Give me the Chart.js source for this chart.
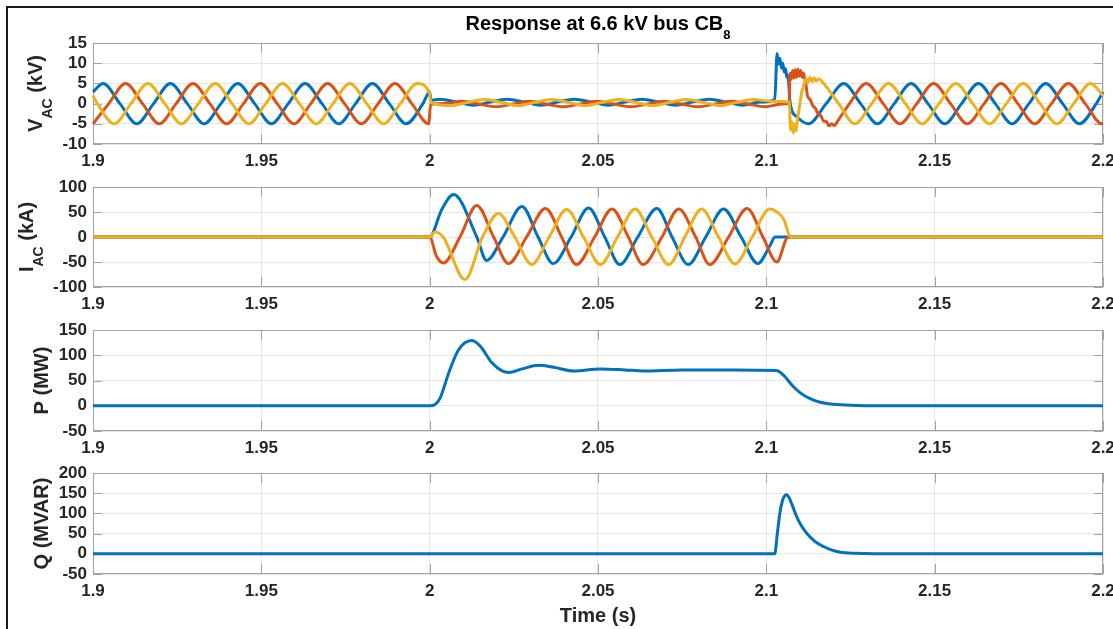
<!DOCTYPE html>
<html><head><meta charset="utf-8">
<script src="https://cdn.jsdelivr.net/npm/chart.js@4.4.1/dist/chart.umd.min.js"></script>
<style>
html,body{margin:0;padding:0;background:#fff;overflow:hidden;width:1113px;height:629px;}
#frame{position:absolute;left:6px;top:6px;width:1300px;height:800px;border:2px solid #1a1a1a;box-sizing:border-box;}
canvas{position:absolute;left:0;}
</style></head><body>
<div id="frame"></div>
<canvas id="c1" width="1113" height="174" style="top:0px"></canvas>
<canvas id="c2" width="1113" height="140" style="top:177px"></canvas>
<canvas id="c3" width="1113" height="141" style="top:320px"></canvas>
<canvas id="c4" width="1113" height="166" style="top:463px"></canvas>
<script>
// ---------- x axis (time) ----------
const xTickVals = [1.9,1.95,2,2.05,2.1,2.15,2.2];
const xTickLabels = ['1.9','1.95','2','2.05','2.1','2.15','2.2'];

// ---------- panel 1: V_AC (kV) ----------
const vTickVals = [-10,-5,0,5,10,15];
const vTickLabels = ['-10','-5','0','5','10','15'];
const vaT=[1.9,1.903,1.908,1.913,1.918,1.923,1.928,1.933,1.938,1.943,1.948,1.953,1.958,1.963,1.968,1.973,1.978,1.983,1.988,1.993,1.998,2.0,
2.0004,2.003,2.008,2.013,2.018,2.023,2.028,2.033,2.038,2.043,2.048,2.053,2.058,2.063,2.068,2.073,2.078,2.083,2.088,2.093,2.098,2.1025,
2.1032,2.1036,2.104,2.1045,2.1049,2.1053,2.1057,2.1061,2.1064,2.1067,2.107,2.109,2.1125,2.1178,
2.123,2.128,2.133,2.138,2.143,2.148,2.153,2.158,2.163,2.168,2.173,2.178,2.183,2.188,2.193,2.198,2.2];
const vaV=[2.9,5,0,-5,0,5,0,-5,0,5,0,-5,0,5,0,-5,0,5,0,-5,0,2.9,
0.8,1.1,0.4,-0.4,0.4,1.1,0.4,-0.4,0.4,1.1,0.4,-0.4,0.4,1.1,0.4,-0.4,0.4,1.1,0.4,-0.4,0.4,1.0,
12.4,9.8,11.2,8.8,10.0,7.8,8.6,6.5,7.0,4.5,0.5,-3.2,-5,0,
5,0,-5,0,5,0,-5,0,5,0,-5,0,5,0,-5,0,2.9];
const vbT=[1.9,1.9047,1.9097,1.9147,1.9197,1.9247,1.9297,1.9347,1.9397,1.9447,1.9497,1.9547,1.9597,1.9647,1.9697,1.9747,1.9797,1.9847,1.9897,1.9947,1.9997,
2.0003,2.0047,2.0097,2.0147,2.0197,2.0247,2.0297,2.0347,2.0397,2.0447,2.0497,2.0547,2.0597,2.0647,2.0697,2.0747,2.0797,2.0847,2.0897,2.0947,2.0997,2.1047,2.1068,
2.107,2.1074,2.1078,2.1082,2.1086,2.109,2.1094,2.1098,2.1102,2.1106,2.111,2.1114,2.1118,2.1122,2.113,2.1138,2.1146,2.1154,2.1162,2.117,2.1178,2.1186,2.1194,2.1202,2.1212,2.1247,
2.1297,2.1347,2.1397,2.1447,2.1497,2.1547,2.1597,2.1647,2.1697,2.1747,2.1797,2.1847,2.1897,2.1947,2.1997,2.2];
const vbV=[-5,0,5,0,-5,0,5,0,-5,0,5,0,-5,0,5,0,-5,0,5,0,-5,
-0.2,0.0,0.6,-0.1,-0.8,-0.1,0.6,-0.1,-0.8,-0.1,0.6,-0.1,-0.8,-0.1,0.6,-0.1,-0.8,-0.1,0.6,-0.1,-0.8,-0.1,0.2,
7.5,6.0,8.2,6.3,8.4,6.5,8.5,6.8,8.2,6.5,7.6,6.2,4.5,2.0,1.0,-0.5,-1.2,-2.6,-3.0,-4.3,-4.4,-5.5,-5.0,-5.4,-4.3,0,
5,0,-5,0,5,0,-5,0,5,0,-5,0,5,0,-5,-5];
const vcT=[1.9,1.9013,1.9063,1.9113,1.9163,1.9213,1.9263,1.9313,1.9363,1.9413,1.9463,1.9513,1.9563,1.9613,1.9663,1.9713,1.9763,1.9813,1.9863,1.9913,1.9963,2.0,
2.0003,2.0063,2.0113,2.0163,2.0213,2.0263,2.0313,2.0363,2.0413,2.0463,2.0513,2.0563,2.0613,2.0663,2.0713,2.0763,2.0813,2.0863,2.0913,2.0963,2.1013,2.1068,
2.1072,2.1076,2.108,2.1084,2.1088,2.1092,2.1098,2.1105,2.1112,2.1118,2.1124,2.113,2.1136,2.1142,2.1148,2.1156,2.1165,2.1215,
2.1263,2.1313,2.1363,2.1413,2.1463,2.1513,2.1563,2.1613,2.1663,2.1713,2.1763,2.1813,2.1863,2.1913,2.1963,2.2];
const vcV=[2,0,-5,0,5,0,-5,0,5,0,-5,0,5,0,-5,0,5,0,-5,0,5,2.5,
0.3,-0.5,0.3,1.0,0.3,-0.5,0.3,1.0,0.3,-0.5,0.3,1.0,0.3,-0.5,0.3,1.0,0.3,-0.5,0.3,1.0,0.6,0.4,
-6.5,-4.5,-7.3,-5.0,-6.8,-4.2,-1.0,2.8,4.8,6.2,5.2,6.5,5.4,6.4,5.6,6.1,5.5,0,
-5,0,5,0,-5,0,5,0,-5,0,5,0,-5,0,5,2];

// ---------- panel 2: I_AC (kA) ----------
const iTickVals = [-100,-50,0,50,100];
const iTickLabels = ['-100','-50','0','50','100'];
const iaT=[1.9,2.0,2.0036,2.0071,2.014,2.0169,2.0218,2.0274,2.0322,2.0367,2.042,2.0472,2.052,2.0565,2.0618,2.0675,2.072,2.0768,2.082,2.0873,2.0925,2.0975,2.1011,2.1026,2.2];
const iaV=[0,0,55,85,0,-47,0,61,0,-53,0,58,0,-55,0,57,0,-55,0,56,0,-53,-17,0,0];
const ibT=[1.9,2.0,2.002,2.0041,2.009,2.014,2.019,2.0234,2.0288,2.0344,2.0392,2.0436,2.049,2.0542,2.059,2.0634,2.069,2.074,2.079,2.0832,2.0888,2.0943,2.099,2.1031,2.1065,2.2];
const ibV=[0,0,-38,-52,0,63,0,-53,0,57,0,-55,0,56,0,-55,0,56,0,-55,0,57,0,-50,0,0];
const icT=[1.9,2.0,2.0016,2.004,2.0105,2.0157,2.0204,2.0253,2.0303,2.0355,2.0407,2.0457,2.0507,2.0558,2.061,2.066,2.071,2.0758,2.0808,2.0858,2.0907,2.0958,2.101,2.1032,2.1052,2.1072,2.2];
const icV=[0,0,10,0,-85,0,47,0,-55,0,55,0,-55,0,56,0,-55,0,56,0,-54,0,56,50,35,0,0];

// ---------- panel 3: P (MW) ----------
const pTickVals = [-50,0,50,100,150];
const pTickLabels = ['-50','0','50','100','150'];
const pT=[1.9,2.0,2.0015,2.0031,2.0055,2.0085,2.0125,2.015,2.0185,2.0215,2.0236,2.0275,2.0323,2.037,2.0427,2.0506,2.058,2.0635,2.075,2.09,2.103,2.105,2.108,2.11,2.113,2.116,2.12,2.125,2.135,2.2];
const pV=[0,0,2,15,62,110,129,118,85,69,66,73,80,76,69,73,71,69,71,71,70,61,38,26,14,7,3,1,0,0];

// ---------- panel 4: Q (MVAR) ----------
const qTickVals = [-50,0,50,100,150,200];
const qTickLabels = ['-50','0','50','100','150','200'];
const qT=[1.9,2.1025,2.1032,2.104,2.1048,2.1055,2.106,2.1067,2.1078,2.109,2.1105,2.112,2.1145,2.117,2.1195,2.122,2.126,2.132,2.2];
const qV=[0,0,45,100,132,144,146,140,118,92,68,51,30,18,9,4,1.2,0,0];

const BLUE='#0072BD', ORANGE='#D95319', YELLOW='#EDB120';
const GRID='#e6e6e6', BOX='#a3a3a3', TXT='#262626';
const FONT='"Liberation Sans", Arial, Helvetica, sans-serif';

Chart.defaults.font.family = FONT;
Chart.defaults.font.weight = 'bold';
Chart.defaults.font.size = 17;
Chart.defaults.color = TXT;

function pts(t, v){ return t.map((x,i)=>({x:x, y:v[i]})); }

function drawRich(ctx, segs, x, y, rot, align){
  ctx.save();
  ctx.translate(x, y);
  if (rot) ctx.rotate(rot);
  let w = 0;
  segs.forEach(s=>{ ctx.font = 'bold '+s.size+'px '+FONT; s.w = ctx.measureText(s.t).width; w += s.w; });
  let cx = align==='center' ? -w/2 : 0;
  ctx.textBaseline = 'alphabetic'; ctx.textAlign = 'left';
  segs.forEach(s=>{ ctx.font = 'bold '+s.size+'px '+FONT; ctx.fillStyle = s.color || TXT; ctx.fillText(s.t, cx, s.dy); cx += s.w; });
  ctx.restore();
}

function makePanel(id, opts){
  const ds = opts.series.map(s=>({
    data: pts(s.t, s.v), borderColor: s.color, borderWidth: 3, pointRadius: 0,
    cubicInterpolationMode: 'monotone', fill: false, order: s.order, clip: 4
  }));
  const panelPlugin = {
    id: 'panel'+id,
    beforeDatasetsDraw(chart){
      const {ctx, chartArea:a, scales:{x,y}} = chart;
      ctx.save();
      ctx.strokeStyle = BOX; ctx.lineWidth = 1;
      ctx.strokeRect(a.left+0.5, a.top+0.5, a.right-a.left-1, a.bottom-a.top-1);
      ctx.beginPath();
      xTickVals.forEach(v=>{ const px = Math.round(x.getPixelForValue(v))+0.5;
        ctx.moveTo(px, a.top); ctx.lineTo(px, a.top+10); ctx.moveTo(px, a.bottom); ctx.lineTo(px, a.bottom-10); });
      opts.yTicks.forEach(v=>{ const py = Math.round(y.getPixelForValue(v))+0.5;
        ctx.moveTo(a.left, py); ctx.lineTo(a.left+9, py); ctx.moveTo(a.right, py); ctx.lineTo(a.right-9, py); });
      ctx.stroke();
      ctx.restore();
    },
    afterDraw(chart){
      const {ctx, chartArea:a} = chart;
      drawRich(ctx, opts.ylabel, opts.ylabelX, (a.top+a.bottom)/2, -Math.PI/2, 'center');
      if (opts.extra) opts.extra(ctx, a);
    }
  };
  return new Chart(document.getElementById(id), {
    type: 'line',
    data: { datasets: ds },
    options: {
      responsive: false, animation: false, events: [],
      layout: { padding: { top: opts.padTop, right: 10, left: 0, bottom: 0 } },
      plugins: { legend: {display:false}, tooltip: {enabled:false}, title: {display:false} },
      scales: {
        x: {
          type: 'linear', min: 1.9, max: 2.2,
          afterBuildTicks: s => { s.ticks = xTickVals.map(v=>({value:v})); },
          afterFit: s => { s.height = opts.xH; s.paddingLeft = 0; s.paddingRight = 0; },
          ticks: { callback: (v,i) => xTickLabels[i], padding: 7, maxRotation: 0, autoSkip: false, color: TXT },
          grid: { color: GRID, lineWidth: 1, drawTicks: false },
          border: { display: false }
        },
        y: {
          type: 'linear', min: opts.yTicks[0], max: opts.yTicks[opts.yTicks.length-1],
          afterBuildTicks: s => { s.ticks = opts.yTicks.map(v=>({value:v})); },
          afterFit: s => { s.width = 93; s.paddingTop = 0; s.paddingBottom = 0; },
          ticks: { callback: (v,i) => opts.yLabels[i], padding: 6, autoSkip: false, color: TXT },
          grid: { color: GRID, lineWidth: 1, drawTicks: false },
          border: { display: false }
        }
      }
    },
    plugins: [panelPlugin]
  });
}

makePanel('c1', {
  padTop: 43, xH: 30, yTicks: vTickVals, yLabels: vTickLabels, ylabelX: 42,
  ylabel: [{t:'V',size:20,dy:0},{t:'AC',size:14,dy:10},{t:' (kV)',size:20,dy:0}],
  series: [{t:vaT,v:vaV,color:BLUE,order:3},{t:vbT,v:vbV,color:ORANGE,order:2},{t:vcT,v:vcV,color:YELLOW,order:1}],
  extra: (ctx, a) => drawRich(ctx, [{t:'Response at 6.6 kV bus CB',size:20,dy:0,color:'#000'},{t:'8',size:13,dy:9,color:'#000'}], (a.left+a.right)/2, 30, 0, 'center')
});
makePanel('c2', {
  padTop: 10, xH: 30, yTicks: iTickVals, yLabels: iTickLabels, ylabelX: 33,
  ylabel: [{t:'I',size:20,dy:0},{t:'AC',size:14,dy:10},{t:' (kA)',size:20,dy:0}],
  series: [{t:iaT,v:iaV,color:BLUE,order:3},{t:ibT,v:ibV,color:ORANGE,order:2},{t:icT,v:icV,color:YELLOW,order:1}]
});
makePanel('c3', {
  padTop: 10, xH: 30, yTicks: pTickVals, yLabels: pTickLabels, ylabelX: 48,
  ylabel: [{t:'P (MW)',size:20,dy:0}],
  series: [{t:pT,v:pV,color:BLUE,order:1}]
});
makePanel('c4', {
  padTop: 10, xH: 55, yTicks: qTickVals, yLabels: qTickLabels, ylabelX: 48,
  ylabel: [{t:'Q (MVAR)',size:20,dy:0}],
  series: [{t:qT,v:qV,color:BLUE,order:1}],
  extra: (ctx, a) => drawRich(ctx, [{t:'Time (s)',size:20,dy:0}], (a.left+a.right)/2, 159, 0, 'center')
});
</script>
</body></html>
